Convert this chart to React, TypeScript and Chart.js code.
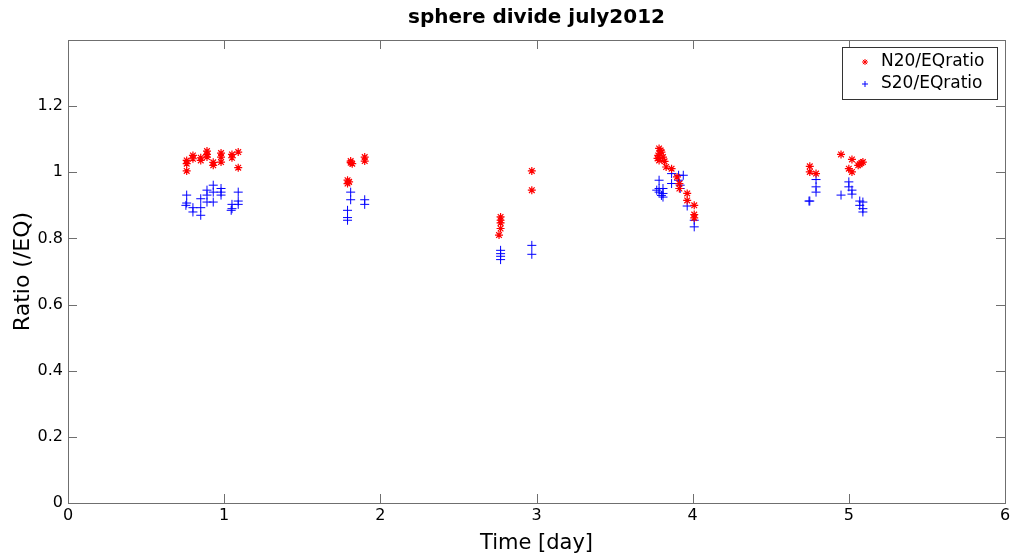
import React, { useEffect, useRef } from "react";
import { Chart, registerables } from "chart.js";

Chart.register(...registerables);

const titleText = "sphere divide july2012";
const xLabel = "Time [day]";
const yLabel = "Ratio (/EQ)";
const seriesNames = ["N20/EQratio", "S20/EQratio"];
const xTicks = [0, 1, 2, 3, 4, 5, 6];
const yTicks = [0, 0.2, 0.4, 0.6, 0.8, 1, 1.2, 1.4];

const nX = [
  0.76, 0.76, 0.76, 0.8, 0.8, 0.85, 0.85, 0.89, 0.89, 0.89, 0.93, 0.93, 0.98, 0.98, 0.98, 1.05, 1.05, 1.09, 1.09,
  1.79, 1.79, 1.8, 1.81, 1.81, 1.82, 1.9, 1.9,
  2.77, 2.77, 2.77, 2.77, 2.76, 2.97, 2.97,
  3.785, 3.8, 3.78, 3.81, 3.785, 3.82, 3.83, 3.865, 3.9, 3.915, 3.915, 3.965, 3.965, 4.01, 4.01, 4.01, 3.79, 3.775, 3.795,
  4.75, 4.75, 4.79, 4.95, 5.02, 5.0, 5.02, 5.07, 5.09, 5.06, 5.08,
];
const nY = [
  1.036, 1.026, 1.004, 1.051, 1.041, 1.044, 1.036, 1.064, 1.054, 1.046, 1.03, 1.021, 1.058, 1.046, 1.031, 1.054, 1.044, 1.061, 1.014,
  0.976, 0.966, 0.971, 1.029, 1.034, 1.026, 1.046, 1.034,
  0.865, 0.855, 0.847, 0.83, 0.81, 1.004, 0.946,
  1.072, 1.061, 1.051, 1.046, 1.036, 1.033, 1.016, 1.011, 0.986, 0.966, 0.951, 0.936, 0.915, 0.9, 0.872, 0.862, 1.056, 1.042, 1.066,
  1.018, 1.001, 0.996, 1.054, 1.039, 1.011, 1.001, 1.024, 1.031, 1.021, 1.028,
];

const sX = [
  0.76, 0.76, 0.755, 0.8, 0.8, 0.85, 0.85, 0.85, 0.89, 0.89, 0.89, 0.93, 0.93, 0.93, 0.98, 0.98, 0.98, 1.05, 1.05, 1.045, 1.09, 1.09, 1.09,
  1.81, 1.81, 1.79, 1.79, 1.79, 1.9, 1.9,
  2.77, 2.77, 2.77, 2.77, 2.97, 2.97,
  3.785, 3.785, 3.785, 3.81, 3.81, 3.81, 3.77, 3.8, 3.865, 3.865, 3.91, 3.91, 3.92, 3.92, 3.965, 4.01, 4.01, 3.94,
  4.79, 4.79, 4.79, 4.75, 4.745, 5.0, 5.0, 5.02, 5.02, 4.95, 5.07, 5.07, 5.09, 5.09, 5.09,
];
const sY = [
  0.931, 0.907, 0.9, 0.893, 0.88, 0.92, 0.893, 0.87, 0.946, 0.931, 0.91, 0.961, 0.94, 0.91, 0.951, 0.94, 0.931, 0.903, 0.89, 0.885, 0.94, 0.913, 0.903,
  0.94, 0.917, 0.885, 0.863, 0.855, 0.917, 0.903,
  0.764, 0.754, 0.746, 0.736, 0.779, 0.752,
  0.976, 0.951, 0.94, 0.951, 0.936, 0.925, 0.946, 0.93, 0.996, 0.966, 0.991, 0.976, 0.961, 0.951, 0.898, 0.855, 0.835, 0.991,
  0.978, 0.956, 0.94, 0.913, 0.913, 0.971, 0.956, 0.946, 0.934, 0.931, 0.913, 0.9, 0.91, 0.89, 0.88,
];

const FONT = "'DejaVu Sans', 'Liberation Sans', sans-serif";
const AXIS_COLOR = "#6f6f6f";

function drawStar(ctx: CanvasRenderingContext2D, x: number, y: number, r: number) {
  ctx.beginPath();
  ctx.moveTo(x - r, y);
  ctx.lineTo(x + r, y);
  ctx.moveTo(x, y - r);
  ctx.lineTo(x, y + r);
  const d = r * 0.7071;
  ctx.moveTo(x - d, y - d);
  ctx.lineTo(x + d, y + d);
  ctx.moveTo(x - d, y + d);
  ctx.lineTo(x + d, y - d);
  ctx.stroke();
}
function drawCross(ctx: CanvasRenderingContext2D, x: number, y: number, r: number) {
  ctx.beginPath();
  ctx.moveTo(x - r, y);
  ctx.lineTo(x + r, y);
  ctx.moveTo(x, y - r);
  ctx.lineTo(x, y + r);
  ctx.stroke();
}

const framePlugin = {
  id: "matlabFrame",
  afterDatasetsDraw(chart: any) {
    const { ctx, chartArea, scales } = chart;
    const { left, right, top, bottom } = chartArea;
    ctx.save();
    ctx.strokeStyle = AXIS_COLOR;
    ctx.lineWidth = 1;
    ctx.strokeRect(Math.round(left) + 0.5, Math.round(top) + 0.5, Math.round(right - left), Math.round(bottom - top));
    const tl = 9;
    ctx.beginPath();
    xTicks.forEach((v) => {
      const px = Math.round(scales.x.getPixelForValue(v)) + 0.5;
      ctx.moveTo(px, bottom);
      ctx.lineTo(px, bottom - tl);
      ctx.moveTo(px, top);
      ctx.lineTo(px, top + tl);
    });
    yTicks.forEach((v) => {
      const py = Math.round(scales.y.getPixelForValue(v)) + 0.5;
      ctx.moveTo(left, py);
      ctx.lineTo(left + tl, py);
      ctx.moveTo(right, py);
      ctx.lineTo(right - tl, py);
    });
    ctx.stroke();

    // legend box
    const lx = right - 163;
    const ly = top + 7;
    const lw = 155;
    const lh = 52;
    ctx.fillStyle = "#ffffff";
    ctx.fillRect(lx, ly, lw, lh);
    ctx.strokeStyle = "#333333";
    ctx.strokeRect(Math.round(lx) + 0.5, Math.round(ly) + 0.5, lw, lh);
    const rows = [ly + 15, ly + 37];
    ctx.lineWidth = 1;
    ctx.strokeStyle = "#ff0000";
    drawStar(ctx, lx + 23, rows[0], 3);
    ctx.strokeStyle = "#0000ff";
    drawCross(ctx, lx + 23, rows[1], 3);
    ctx.fillStyle = "#000000";
    ctx.font = `17px ${FONT}`;
    ctx.textBaseline = "middle";
    ctx.textAlign = "left";
    ctx.fillText(seriesNames[0], lx + 39, rows[0]);
    ctx.fillText(seriesNames[1], lx + 39, rows[1]);
    ctx.restore();
  },
};

export default function App() {
  const canvasRef = useRef<HTMLCanvasElement | null>(null);

  useEffect(() => {
    const canvas = canvasRef.current;
    if (!canvas) return;
    const nData = nX.map((x, i) => ({ x, y: nY[i] }));
    const sData = sX.map((x, i) => ({ x, y: sY[i] }));
    const chart = new Chart(canvas, {
      type: "scatter",
      data: {
        datasets: [
          {
            label: seriesNames[0],
            data: nData,
            pointStyle: "star",
            radius: 4,
            borderColor: "#ff0000",
            backgroundColor: "#ff0000",
            borderWidth: 1.2,
          },
          {
            label: seriesNames[1],
            data: sData,
            pointStyle: "cross",
            radius: 4.5,
            borderColor: "#0000ff",
            backgroundColor: "#0000ff",
            borderWidth: 1,
          },
        ],
      },
      options: {
        responsive: false,
        animation: false,
        events: [],
        layout: { padding: { left: 0, right: 11, top: 0, bottom: 0 } },
        plugins: {
          legend: { display: false },
          tooltip: { enabled: false },
          title: {
            display: true,
            text: titleText,
            fullSize: false,
            color: "#000000",
            font: { family: FONT, size: 20, weight: "bold", lineHeight: 1.2 },
            padding: { top: 6, bottom: 10 },
          },
        },
        scales: {
          x: {
            type: "linear",
            min: 0,
            max: 6,
            grid: { display: false, drawTicks: false },
            border: { display: false },
            afterBuildTicks: (scale: any) => {
              scale.ticks = xTicks.map((v) => ({ value: v }));
            },
            ticks: {
              color: "#000000",
              font: { family: FONT, size: 16 },
              padding: 3,
              maxRotation: 0,
              callback: (v: any) => String(v),
            },
            title: {
              display: true,
              text: xLabel,
              color: "#000000",
              font: { family: FONT, size: 21 },
              padding: { top: 0, bottom: 4 },
            },
            afterFit: (scale: any) => {
              scale.height = 57;
            },
          },
          y: {
            type: "linear",
            min: 0,
            max: 1.4,
            grid: { display: false, drawTicks: false },
            border: { display: false },
            afterBuildTicks: (scale: any) => {
              scale.ticks = yTicks.map((v) => ({ value: v }));
            },
            ticks: {
              color: "#000000",
              font: { family: FONT, size: 16 },
              padding: 5,
              callback: (v: any) => (Math.abs(v - 1.4) < 1e-6 ? "" : String(Math.round(v * 10) / 10)),
            },
            title: {
              display: true,
              text: yLabel,
              color: "#000000",
              font: { family: FONT, size: 22 },
              padding: { top: 10, bottom: 0 },
            },
            afterFit: (scale: any) => {
              scale.width = 68;
            },
          },
        },
      },
      plugins: [framePlugin],
    });
    return () => chart.destroy();
  }, []);

  return (
    <div style={{ position: "absolute", left: 0, top: 0, width: 1016, height: 560, background: "#ffffff" }}>
      <canvas ref={canvasRef} width={1016} height={560} style={{ display: "block" }} />
    </div>
  );
}
